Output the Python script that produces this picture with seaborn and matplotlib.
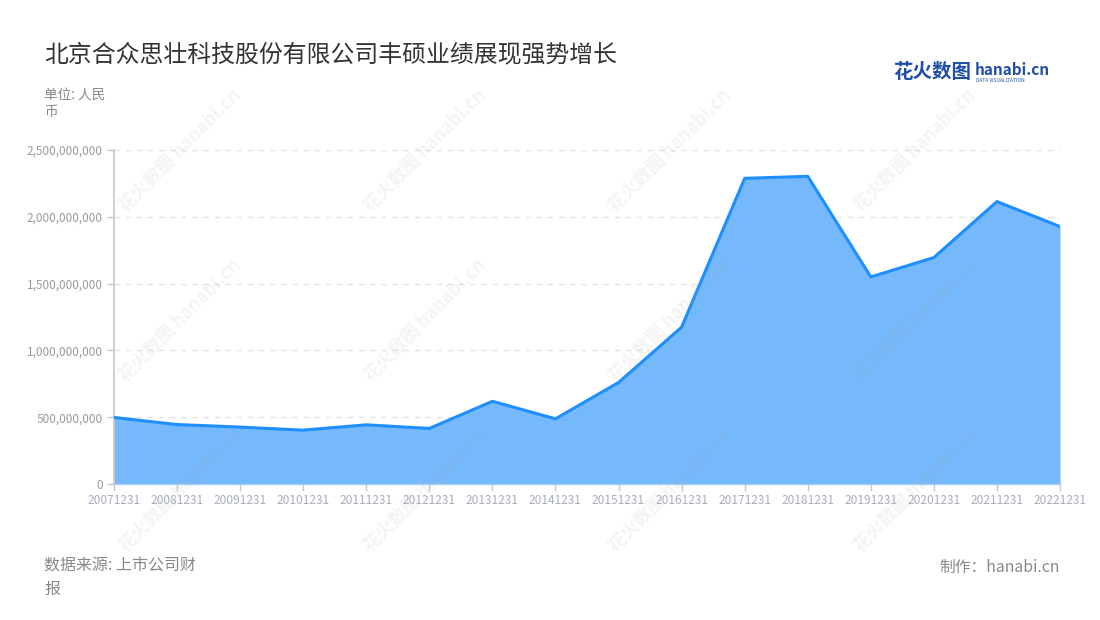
import matplotlib
matplotlib.use("Agg")
import matplotlib.pyplot as plt
import matplotlib.ticker as mticker
import seaborn as sns
import pandas as pd
import numpy as np

years = ["20071231", "20081231", "20091231", "20101231", "20111231", "20121231",
         "20131231", "20141231", "20151231", "20161231", "20171231", "20181231",
         "20191231", "20201231", "20211231", "20221231"]
revenue = [498e6, 445e6, 426e6, 403e6, 443e6, 416e6, 619e6, 488e6, 760e6,
           1174e6, 2288e6, 2303e6, 1550e6, 1695e6, 2114e6, 1927e6]
y_ticks = [0, 500e6, 1000e6, 1500e6, 2000e6, 2500e6]

title = "北京合众思壮科技股份有限公司丰硕业绩展现强势增长"
unit = "单位: 人民\n币"
source = "数据来源: 上市公司财\n报"
credit = "制作：hanabi.cn"

sns.set_theme(style="white")
plt.rcParams["font.family"] = ["Noto Sans CJK SC", "DejaVu Sans"]

df = pd.DataFrame({"year": years, "revenue": revenue})
df["pos"] = np.arange(len(df))

fig = plt.figure(figsize=(11, 6.2), dpi=100)
ax = fig.add_axes([114 / 1100, 1 - 484 / 620, (1060 - 114) / 1100, (484 - 150) / 620])

ax.fill_between(df["pos"], df["revenue"], color="#75b8fc", zorder=2, linewidth=0)
sns.lineplot(data=df, x="pos", y="revenue", ax=ax, color="#1e8ffc", linewidth=2.2, zorder=3)

ax.set_xlim(0, len(years) - 1)
ax.set_ylim(0, 2.5e9)
ax.set_xticks(df["pos"])
ax.set_xticklabels(years)
ax.set_yticks(y_ticks)
ax.yaxis.set_major_formatter(mticker.FuncFormatter(lambda v, p: f"{int(v):,}"))
ax.set_xlabel("")
ax.set_ylabel("")

ax.grid(axis="y", color="#e3e3e3", linestyle=(0, (4, 4)), linewidth=1, zorder=1)
ax.grid(axis="x", visible=False)
for s in ["top", "right"]:
    ax.spines[s].set_visible(False)
ax.spines["left"].set_color("#c8c8c8")
ax.spines["left"].set_linewidth(1.2)
ax.spines["bottom"].set_color("#a6cdf5")
ax.spines["bottom"].set_linewidth(1)
ax.tick_params(axis="y", length=5, width=1, color="#c8c8c8", labelsize=8.5, labelcolor="#9a9a9a", pad=3, left=True)
ax.tick_params(axis="x", length=5, width=1, color="#c8c8c8", labelsize=8.6, labelcolor="#a8adb9", pad=2, bottom=True)

# watermarks
for cx in [180, 425, 670, 915]:
    for cy in [150, 320, 490]:
        fig.text(cx / 1100, 1 - cy / 620, "花火数图 hanabi.cn", rotation=45, fontsize=13,
                 color="#b0b0b0", alpha=0.14, ha="center", va="center", fontweight="bold", zorder=5)

fig.text(44 / 1100, 1 - 55 / 620, title, fontsize=17.2, color="#333333", ha="left", va="center")
fig.text(44 / 1100, 1 - 88 / 620, unit, fontsize=9.8, color="#888888", ha="left", va="top", linespacing=1.25)
fig.text(44 / 1100, 1 - 558 / 620, source, fontsize=11.5, color="#888888", ha="left", va="top", linespacing=1.45)
fig.text(1060 / 1100, 1 - 567 / 620, credit, fontsize=11.3, color="#888888", ha="right", va="center")

# logo
fig.text(893 / 1100, 1 - 73 / 620, "花火数图", fontsize=14, color="#1f4fa8", ha="left", va="center", fontweight="bold")
fig.text(975 / 1100, 1 - 70 / 620, "hanabi.cn", fontsize=11, color="#1f4fa8", ha="left", va="center", fontweight="bold")
fig.text(976 / 1100, 1 - 80 / 620, "DATA VISUALIZATION", fontsize=3.5, color="#1f4fa8", ha="left", va="center")

fig.savefig("out.png", dpi=100)
